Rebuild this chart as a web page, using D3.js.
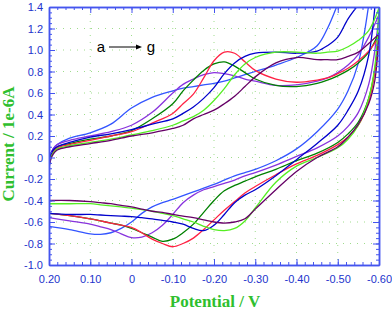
<!DOCTYPE html>
<html><head><meta charset="utf-8">
<script src="https://cdn.jsdelivr.net/npm/d3@7"></script>
<style>body{margin:0;background:#fff}svg{display:block}</style>
</head><body>
<svg id="c" width="392" height="311"></svg>
<script>
// ---------- data ----------
const xTickValues = [0.2, 0.1, 0, -0.1, -0.2, -0.3, -0.4, -0.5, -0.6];
const xTickLabels = ["0.20", "0.10", "0", "-0.10", "-0.20", "-0.30", "-0.40", "-0.50", "-0.60"];
const yTickValues = [-1.0, -0.8, -0.6, -0.4, -0.2, 0, 0.2, 0.4, 0.6, 0.8, 1.0, 1.2, 1.4];
const yTickLabels = ["-1.0", "-0.8", "-0.6", "-0.4", "-0.2", "0", "0.2", "0.4", "0.6", "0.8", "1.0", "1.2", "1.4"];

const seriesNames = ["a", "b", "c", "d", "e", "f", "g"];
const seriesColors = ["#3355ff", "#8833dd", "#008000", "#ff2244", "#0000cc", "#55ee22", "#660066"];

// forward (upper) branch potentials
const potentialsUp = [0.2, 0.195, 0.19, 0.18, 0.15, 0.1, 0.05, 0, -0.05, -0.1, -0.125, -0.15, -0.175, -0.2, -0.225, -0.25, -0.275, -0.3, -0.35, -0.4, -0.45, -0.475, -0.5, -0.525, -0.55, -0.575, -0.6];
const upA = [-0.08, 0.03, 0.08, 0.12, 0.18, 0.23, 0.31, 0.46, 0.56, 0.62, 0.645, 0.66, 0.675, 0.69, 0.71, 0.74, 0.77, 0.80, 0.86, 0.93, 1.04, 1.20, 1.43, null, null, null, null];
const upB = [-0.05, 0.04, 0.08, 0.12, 0.16, 0.20, 0.24, 0.30, 0.42, 0.60, 0.68, 0.73, 0.77, 0.79, 0.78, 0.76, 0.73, 0.71, 0.67, 0.675, 0.71, 0.74, 0.79, 0.86, 0.96, 1.12, 1.33];
const upC = [-0.07, 0.02, 0.06, 0.10, 0.13, 0.17, 0.20, 0.25, 0.36, 0.50, 0.62, 0.72, 0.81, 0.87, 0.89, 0.85, 0.79, 0.73, 0.67, 0.66, 0.69, 0.72, 0.76, 0.81, 0.88, 0.98, 1.16];
const upD = [-0.08, 0.01, 0.05, 0.09, 0.12, 0.16, 0.20, 0.24, 0.32, 0.41, 0.50, 0.59, 0.74, 0.90, 0.98, 0.97, 0.89, 0.81, 0.73, 0.70, 0.72, 0.74, 0.78, 0.83, 0.90, 0.99, 1.12];
const upE = [-0.06, 0.03, 0.07, 0.10, 0.14, 0.19, 0.22, 0.26, 0.31, 0.36, 0.41, 0.47, 0.55, 0.65, 0.78, 0.88, 0.94, 0.97, 0.98, 0.97, 0.99, 1.04, 1.12, 1.29, 1.42, null, null];
const upF = [-0.09, 0.00, 0.04, 0.08, 0.11, 0.14, 0.17, 0.21, 0.25, 0.30, 0.34, 0.38, 0.44, 0.53, 0.64, 0.77, 0.87, 0.93, 0.98, 0.98, 0.97, 0.98, 0.99, 1.03, 1.09, 1.18, 1.39];
const upG = [-0.10, -0.01, 0.03, 0.07, 0.10, 0.13, 0.16, 0.20, 0.23, 0.27, 0.30, 0.36, 0.40, 0.44, 0.50, 0.57, 0.66, 0.75, 0.88, 0.93, 0.91, 0.91, 0.91, 0.94, 0.98, 1.06, 1.15];

// reverse (lower) branch potentials
const potentialsDown = [0.2, 0.15, 0.1, 0.075, 0.05, 0.025, 0, -0.025, -0.05, -0.075, -0.1, -0.125, -0.15, -0.175, -0.2, -0.225, -0.25, -0.275, -0.3, -0.35, -0.4, -0.45, -0.5, -0.525, -0.55, -0.575, -0.59, -0.6];
const downA = [-0.64, -0.67, -0.71, -0.715, -0.70, -0.66, -0.60, -0.52, -0.46, -0.42, -0.39, -0.355, -0.32, -0.285, -0.25, -0.21, -0.17, -0.14, -0.11, -0.03, 0.08, 0.24, 0.45, 0.62, 0.88, 1.42, null, null];
const downB = [-0.56, -0.59, -0.62, -0.645, -0.67, -0.71, -0.745, -0.74, -0.70, -0.63, -0.53, -0.42, -0.35, -0.30, -0.27, -0.24, -0.21, -0.17, -0.14, -0.07, 0.01, 0.09, 0.20, 0.29, 0.42, 0.68, 1.00, 1.33];
const downC = [-0.52, -0.54, -0.57, -0.59, -0.61, -0.63, -0.66, -0.70, -0.74, -0.78, -0.76, -0.70, -0.62, -0.51, -0.40, -0.31, -0.26, -0.22, -0.18, -0.11, -0.03, 0.04, 0.14, 0.22, 0.33, 0.55, 0.82, 1.16];
const downD = [-0.52, -0.54, -0.57, -0.59, -0.61, -0.63, -0.65, -0.70, -0.76, -0.80, -0.83, -0.80, -0.75, -0.67, -0.58, -0.49, -0.41, -0.33, -0.27, -0.16, -0.06, 0.02, 0.12, 0.19, 0.30, 0.52, 0.80, 1.12];
const downE = [-0.52, -0.53, -0.53, -0.535, -0.54, -0.545, -0.55, -0.56, -0.57, -0.585, -0.60, -0.62, -0.66, -0.68, -0.63, -0.53, -0.42, -0.35, -0.30, -0.17, -0.02, 0.13, 0.30, 0.44, 0.62, 0.95, 1.40, null];
const downF = [-0.43, -0.43, -0.43, -0.44, -0.45, -0.46, -0.47, -0.485, -0.50, -0.52, -0.54, -0.57, -0.60, -0.64, -0.67, -0.68, -0.66, -0.59, -0.47, -0.23, -0.08, 0.00, 0.09, 0.17, 0.30, 0.55, 0.85, 1.39];
const downG = [-0.40, -0.40, -0.41, -0.42, -0.43, -0.445, -0.46, -0.48, -0.50, -0.51, -0.53, -0.545, -0.56, -0.58, -0.60, -0.61, -0.60, -0.57, -0.48, -0.30, -0.13, 0.00, 0.10, 0.19, 0.31, 0.50, 0.72, 1.15];

const upSeries = [upA, upB, upC, upD, upE, upF, upG];
const downSeries = [downA, downB, downC, downD, downE, downF, downG];

// ---------- drawing ----------
const L = 49, R = 379, T = 7, B = 265;
const axisColor = "#4455ee", labelColor = "#2233cc", titleColor = "#2fbf2f";

const svg = d3.select("#c");
const x = d3.scaleLinear().domain([0.2, -0.6]).range([L, R]);
const y = d3.scaleLinear().domain([-1.0, 1.4]).range([B, T]);

// grid
const grid = svg.append("g").attr("stroke", "#9fdc8c").attr("stroke-width", 1).attr("stroke-dasharray", "1,6");
grid.selectAll("line.vx").data(xTickValues.slice(1, -1)).join("line")
  .attr("x1", d => x(d)).attr("x2", d => x(d)).attr("y1", y(1.4)).attr("y2", y(-1.0));
grid.selectAll("line.hy").data(yTickValues.slice(1, -1)).join("line")
  .attr("y1", d => y(d)).attr("y2", d => y(d)).attr("x1", x(0.2)).attr("x2", x(-0.6));

// clip
svg.append("defs").append("clipPath").attr("id", "clip").append("rect")
  .attr("x", L).attr("y", T).attr("width", R - L).attr("height", B - T);

const line = d3.line()
  .defined(d => d[1] != null)
  .x(d => x(d[0])).y(d => y(d[1]))
  .curve(d3.curveCatmullRom.alpha(0.5));

const plot = svg.append("g").attr("clip-path", "url(#clip)");
seriesNames.forEach((n, i) => {
  plot.append("path").datum(potentialsUp.map((v, k) => [v, upSeries[i][k]]))
    .attr("d", line).attr("fill", "none").attr("stroke", seriesColors[i]).attr("stroke-width", 1.3);
  plot.append("path").datum(potentialsDown.map((v, k) => [v, downSeries[i][k]]))
    .attr("d", line).attr("fill", "none").attr("stroke", seriesColors[i]).attr("stroke-width", 1.3);
});

// axes
const xMinor = d3.range(0, 41).map(i => +(0.2 - i * 0.02).toFixed(2));
const yMinor = d3.range(0, 49).map(i => +(-1 + i * 0.05).toFixed(2));

function styleAxis(g) {
  g.select(".domain").attr("stroke", axisColor).attr("stroke-width", 1.5);
  g.selectAll(".tick line").attr("stroke", axisColor).attr("stroke-width", 1);
  g.selectAll(".tick text").attr("fill", labelColor).attr("font-family", "Arial, 'Liberation Sans', sans-serif").attr("font-size", 11);
}

svg.append("g").attr("transform", `translate(0,${B})`)
  .call(d3.axisBottom(x).tickValues(xMinor).tickSize(-3).tickFormat("").tickSizeOuter(0)).call(styleAxis);
svg.append("g").attr("transform", `translate(0,${B})`)
  .call(d3.axisBottom(x).tickValues(xTickValues).tickSize(-6).tickPadding(10).tickSizeOuter(0)
    .tickFormat((d, i) => xTickLabels[i])).call(styleAxis);
svg.append("g").attr("transform", `translate(0,${T})`)
  .call(d3.axisTop(x).tickValues(xMinor).tickSize(-3).tickFormat("").tickSizeOuter(0)).call(styleAxis);
svg.append("g").attr("transform", `translate(0,${T})`)
  .call(d3.axisTop(x).tickValues(xTickValues).tickSize(-6).tickFormat("").tickSizeOuter(0)).call(styleAxis);

svg.append("g").attr("transform", `translate(${L},0)`)
  .call(d3.axisLeft(y).tickValues(yMinor).tickSize(-3).tickFormat("").tickSizeOuter(0)).call(styleAxis);
svg.append("g").attr("transform", `translate(${L},0)`)
  .call(d3.axisLeft(y).tickValues(yTickValues).tickSize(-6).tickPadding(6).tickSizeOuter(0)
    .tickFormat((d, i) => yTickLabels[i])).call(styleAxis);
svg.append("g").attr("transform", `translate(${R},0)`)
  .call(d3.axisRight(y).tickValues(yMinor).tickSize(-3).tickFormat("").tickSizeOuter(0)).call(styleAxis);
svg.append("g").attr("transform", `translate(${R},0)`)
  .call(d3.axisRight(y).tickValues(yTickValues).tickSize(-6).tickFormat("").tickSizeOuter(0)).call(styleAxis);

// titles
svg.append("text").attr("x", 215).attr("y", 307).attr("text-anchor", "middle")
  .attr("font-family", "'Liberation Serif', 'Times New Roman', serif").attr("font-weight", "bold")
  .attr("font-size", 17).attr("fill", titleColor).text("Potential / V");
svg.append("text").attr("transform", "translate(14,144) rotate(-90)").attr("text-anchor", "middle")
  .attr("font-family", "'Liberation Serif', 'Times New Roman', serif").attr("font-weight", "bold")
  .attr("font-size", 17).attr("fill", titleColor).text("Current / 1e-6A");

// a -> g annotation
const ann = svg.append("g").attr("font-family", "Arial, 'Liberation Sans', sans-serif").attr("font-size", 15).attr("fill", "#000");
ann.append("text").attr("x", 101).attr("y", 52).attr("text-anchor", "middle").text(seriesNames[0]);
ann.append("text").attr("x", 151).attr("y", 52).attr("text-anchor", "middle").text(seriesNames[seriesNames.length - 1]);
ann.append("line").attr("x1", 109).attr("x2", 138).attr("y1", 47).attr("y2", 47).attr("stroke", "#000").attr("stroke-width", 1);
ann.append("path").attr("d", "M142,47 L136,44.5 L136,49.5 Z").attr("fill", "#000");
</script></body></html>
